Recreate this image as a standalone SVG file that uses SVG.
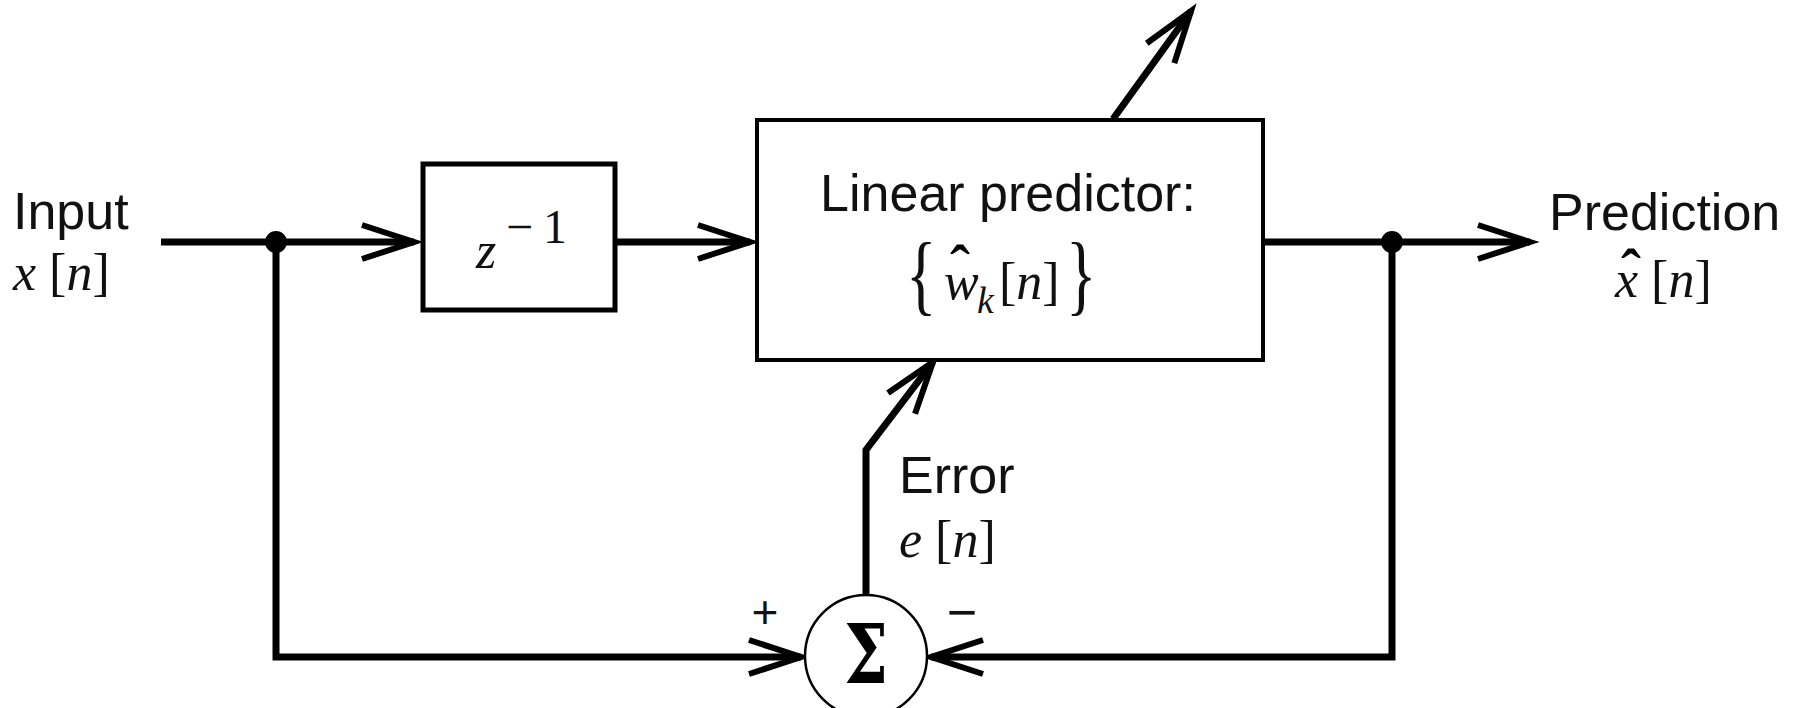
<svg xmlns="http://www.w3.org/2000/svg" width="1802" height="708" viewBox="0 0 1802 708">
<style>
.sans{font-family:"Liberation Sans",Arial,sans-serif;font-size:52px;fill:#111}
.math{font-family:"Liberation Serif","Times New Roman",serif;font-size:52px;fill:#111}
.it{font-style:italic}
.box{fill:#fff;stroke:#000}
.conn{fill:none;stroke:#000;stroke-width:7;stroke-linejoin:miter}
.hat{font-family:"Liberation Serif",serif;font-weight:bold;font-size:60px;fill:#000}
.brace{font-family:"Liberation Serif",serif;font-size:88px;fill:#111}
</style>
<defs>
<marker id="arr" markerUnits="userSpaceOnUse" markerWidth="60" markerHeight="40" refX="0" refY="0" orient="auto" overflow="visible">
<path d="M-52,-17 L0,0 L-52,17" fill="none" stroke="#000" stroke-width="6" stroke-linejoin="miter" stroke-miterlimit="6"/>
</marker>
</defs>
<rect width="1802" height="708" fill="#fff"/>

<g id="connectors">
<path class="conn" d="M161,242 H414" marker-end="url(#arr)"/>
<path class="conn" d="M615,242 H750" marker-end="url(#arr)"/>
<path class="conn" d="M1263,242 H1530" marker-end="url(#arr)"/>
<path class="conn" d="M276,242 V657 H801" marker-end="url(#arr)"/>
<path class="conn" d="M1392,242 V657 H931" marker-end="url(#arr)"/>
<path class="conn" d="M866,595 V450 L933,362" marker-end="url(#arr)"/>
<path class="conn" d="M1113,119 L1191,11" marker-end="url(#arr)"/>
<circle cx="276" cy="242" r="11" fill="#000"/>
<circle cx="1392" cy="242" r="11" fill="#000"/>
</g>

<g id="input">
<text class="sans" x="13" y="229">Input</text>
<text class="math" x="13" y="290"><tspan class="it">x</tspan> [<tspan class="it">n</tspan>]</text>
</g>

<g id="delay">
<rect class="box" x="423" y="164" width="192" height="146" stroke-width="5"/>
<text class="math it" x="476" y="268">z</text>
<text class="math" y="243" style="font-size:48px"><tspan x="506">−</tspan><tspan x="543">1</tspan></text>
</g>

<g id="predictor">
<rect class="box" x="757" y="120" width="506" height="240" stroke-width="4"/>
<text class="sans" x="1008" y="211" text-anchor="middle">Linear predictor:</text>
<text class="brace" x="0" y="304" transform="translate(906 0) scale(0.72 1)">{</text>
<text class="math it" x="944" y="299">w</text>
<text class="hat" x="950" y="286">ˆ</text>
<text class="math it" x="977" y="313" style="font-size:38px">k</text>
<text class="math" x="999" y="299">[<tspan class="it">n</tspan>]</text>
<text class="brace" x="0" y="304" transform="translate(1066 0) scale(0.72 1)">}</text>
</g>

<g id="prediction">
<text class="sans" x="1549" y="230">Prediction</text>
<text class="math" x="1615" y="297"><tspan class="it">x</tspan> [<tspan class="it">n</tspan>]</text>
<text class="hat" x="1621" y="290">ˆ</text>
</g>

<g id="error">
<text class="sans" x="899" y="493">Error</text>
<text class="math" x="899" y="557"><tspan class="it">e</tspan> [<tspan class="it">n</tspan>]</text>
</g>

<g id="sum">
<circle cx="866" cy="656" r="61" fill="#fff" stroke="#000" stroke-width="2.5"/>
<text x="0" y="683" style="font-family:'DejaVu Serif',serif;font-size:82px;font-weight:bold" text-anchor="middle" transform="translate(866 0) scale(0.76 1)">Σ</text>
<text class="sans" x="765" y="628" style="font-size:46px" text-anchor="middle">+</text>
<text class="sans" x="962" y="630" style="font-size:52px" text-anchor="middle">−</text>
</g>
</svg>
